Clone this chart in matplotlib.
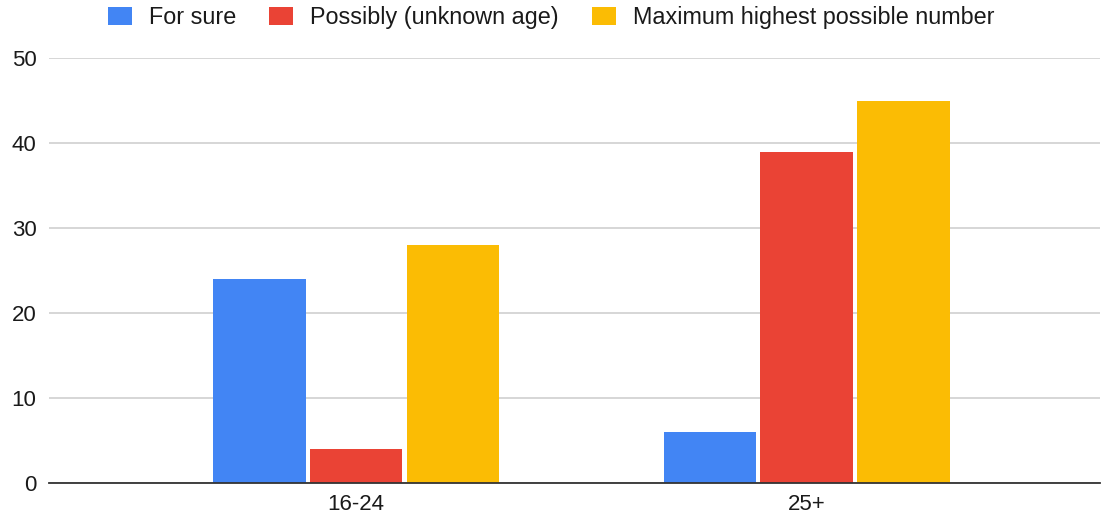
import matplotlib
matplotlib.use("Agg")
import matplotlib.pyplot as plt
import numpy as np

plt.rcParams['font.family'] = ['Liberation Sans', 'DejaVu Sans']

categories = ["16-24", "25+"]
series_names = ["For sure", "Possibly (unknown age)", "Maximum highest possible number"]
for_sure = [24, 6]
possibly = [4, 39]
maximum = [28, 45]
y_ticks = [0, 10, 20, 30, 40, 50]

colors = ["#4285F4", "#EA4335", "#FBBC04"]
series = [for_sure, possibly, maximum]

fig = plt.figure(figsize=(11.02, 5.14), dpi=100)
ax = fig.add_axes([49 / 1102, 31 / 514, 1051 / 1102, 425 / 514])

x = np.arange(len(categories))
bar_w = 0.206
step = 0.215
for i, (vals, name, c) in enumerate(zip(series, series_names, colors)):
    ax.bar(x + (i - 1) * step, vals, width=bar_w, color=c, label=name, zorder=3)

ax.set_xlim(-0.681, 1.650)
ax.set_ylim(0, 50)
ax.set_yticks(y_ticks)
ax.set_xticks(x)
ax.set_xticklabels(categories)
ax.yaxis.grid(True, color="#cccccc", linewidth=1.1, zorder=0)
ax.set_axisbelow(True)
for s in ["top", "right", "left"]:
    ax.spines[s].set_visible(False)
ax.spines["bottom"].set_color("#333333")
ax.spines["bottom"].set_linewidth(1.3)
ax.spines["bottom"].set_zorder(4)
ax.tick_params(axis="both", length=0, labelsize=16, colors="#1a1a1a")
ax.tick_params(axis="y", pad=9)
ax.tick_params(axis="x", pad=8)

fs = 16.8
px = fs * 100 / 72
fig.legend(loc="center", bbox_to_anchor=(0.5, 1 - 17.5 / 514), ncol=3, frameon=False,
           fontsize=fs, handlelength=24 / px, handleheight=20 / px, handletextpad=17 / px,
           columnspacing=33 / px, labelcolor="#1a1a1a")

fig.savefig("out.png", dpi=100)
